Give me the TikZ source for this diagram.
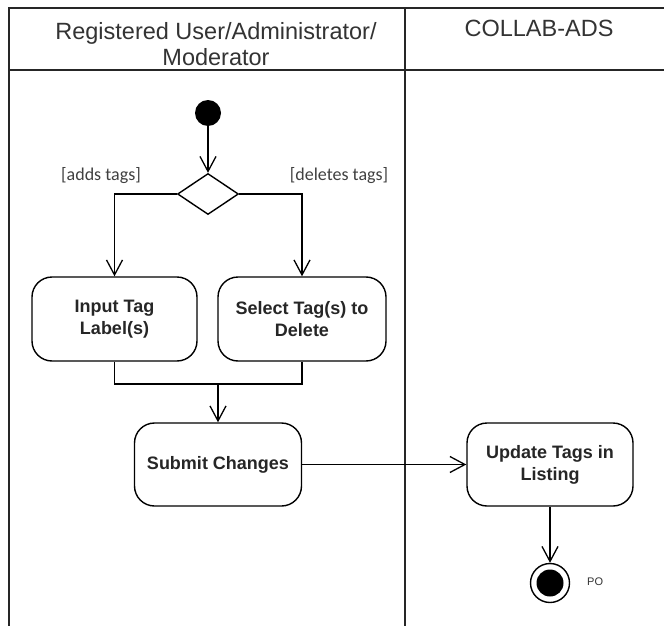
\documentclass[tikz,border=0pt]{standalone}
\usepackage{fontspec}
\setmainfont{Liberation Sans}
\newfontfamily\calib{Carlito}
\usetikzlibrary{arrows.meta,shapes.geometric}
\begin{document}
\begin{tikzpicture}[x=1pt,y=-1pt,
  lane/.style={line width=1.5pt,draw=black!85},
  act/.style={draw,line width=1.4pt,rounded corners=20pt,align=center,
    font=\fontsize{18}{22}\selectfont\bfseries,text=black!85,inner sep=0pt},
  arr/.style={line width=1.4pt,-{Straight Barb[length=15pt,width=16pt,line width=1.3pt]}},
  flow/.style={line width=1.4pt},
  guard/.style={font=\calib\fontsize{18}{22}\selectfont,text=black!75,anchor=base},
  hdr/.style={font=\fontsize{23.5}{26}\selectfont,text=black!80,align=center}]
\useasboundingbox (0,0) rectangle (664,626);
\fill[white] (0,0) rectangle (664,626);
% swimlane frame
\draw[lane] (9,626) -- (9,8) -- (664,8);
\draw[lane] (9,70) -- (664,70);
\draw[lane] (405,8) -- (405,626);
\node[hdr] (h1) at (216,44) {Registered User/Administrator/\\Moderator};
\node[hdr,anchor=base] (h2) at (539,37) {COLLAB-ADS};
% nodes
\node[circle,fill=black,minimum size=26pt,inner sep=0pt] (start) at (208,113) {};
\node[diamond,draw,line width=1.4pt,minimum width=61pt,minimum height=41pt,inner sep=0pt,aspect=1.5] (dec) at (208,194) {};
\node[act,minimum width=165pt,minimum height=84pt] (in) at (114.5,319) {Input Tag\\Label(s)};
\node[act,minimum width=168pt,minimum height=84pt] (sel) at (302,319) {Select Tag(s) to\\Delete};
\node[act,minimum width=167pt,minimum height=83pt] (sub) at (218,464.5) {Submit Changes};
\node[act,minimum width=166pt,minimum height=83pt] (upd) at (550,464.5) {Update Tags in\\Listing};
\node[circle,draw,line width=1.4pt,fill=white,minimum size=39pt,inner sep=0pt] (fin) at (550,583) {};
\node[circle,fill=black,minimum size=27pt,inner sep=0pt] (fininner) at (fin.center) {};
\node[anchor=west,inner sep=0pt,font=\fontsize{11}{13}\selectfont,text=black!80] (po) at (587,582) {PO};
\node[guard] (g1) at (101,180) {[adds tags]};
\node[guard] (g2) at (339,180) {[deletes tags]};
\coordinate (merge) at (218,384);
% connectors
\draw[arr] (start) -- (dec.north);
\draw[arr] (dec.west) -| (in.north);
\draw[arr] (dec.east) -| (sel.north);
\draw[flow] (in.south) |- (merge) -| (sel.south);
\draw[arr] (merge) -- (sub.north);
\draw[arr] (sub.east) -- (upd.west);
\draw[arr] (upd.south) -- (fin.north);
\end{tikzpicture}
\end{document}
